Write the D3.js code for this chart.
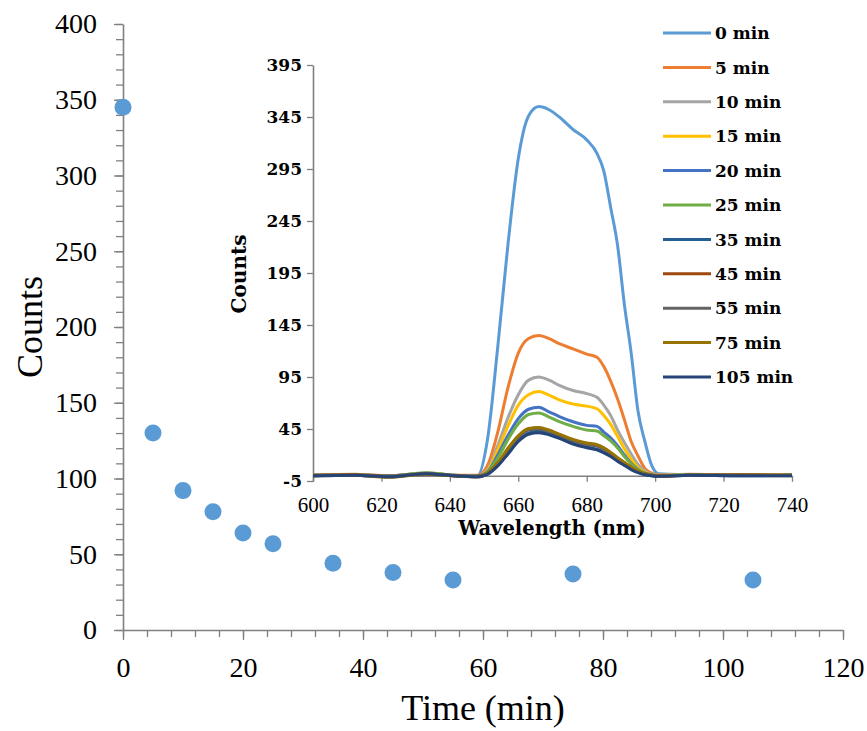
<!DOCTYPE html>
<html>
<head>
<meta charset="utf-8">
<script src="https://cdn.jsdelivr.net/npm/d3@7"></script>
<style>
  body { margin: 0; background: #fff; }
</style>
</head>
<body>
<div id="chart"></div>
<script>
// main scatter: peak counts vs time
const timeMin = [0, 5, 10, 15, 20, 25, 35, 45, 55, 75, 105]
const peakCounts = [345, 130, 92, 78, 64, 57, 44, 38, 33, 37, 33]
const mainXTicks = [0, 20, 40, 60, 80, 100, 120]
const mainYTicks = [0, 50, 100, 150, 200, 250, 300, 350, 400]

// inset: emission spectra
const insetXTicks = [600, 620, 640, 660, 680, 700, 720, 740]
const insetYTicks = [-5, 45, 95, 145, 195, 245, 295, 345, 395]
const wavelengths = [600, 612, 622, 633, 641, 648, 651, 654, 657, 660, 663, 666, 669, 672, 676, 680, 683, 685, 687, 689, 691, 693, 695, 697, 699, 701, 710, 725, 740]
const spec0 = [0.5, 1, -0.5, 2.5, 0.5, 0, 35, 124, 223, 305, 346, 355, 352, 345, 333, 323, 310, 293, 258, 222, 165, 118, 62, 33, 10, 2, 1, 0.5, 0.5]
const spec5 = [1, 1.5, 0, 2.5, 0.5, 0.5, 10, 42, 85, 118, 132, 135, 132, 127, 122, 117, 114, 105, 91, 74, 54, 33, 19, 7, 2.5, 0.7, 1.5, 1, 1]
const spec10 = [0.5, 1, -0.5, 2.5, 0.5, 0, 6, 29, 56, 78, 92, 95, 92, 87, 82, 79, 75.5, 68, 58, 44, 32, 21, 11, 5, 1.5, 0.5, 1, 0.5, 0.5]
const spec15 = [0, 1, -0.5, 2.5, 0.5, 0, 5, 25, 48, 68, 78, 81, 77.5, 73, 69, 67, 64.5, 58, 49.5, 38, 26, 16, 8, 3.5, 1, 0.5, 1, 0.5, 0.5]
const spec20 = [0.5, 1, 0, 2.5, 0.5, 0, 4, 20, 39, 55, 64, 66, 61.5, 57, 52, 48.5, 47.5, 42, 36.5, 29, 20, 12, 6, 2.5, 1, 0, 1, 0.5, 0.5]
const spec25 = [0, 1, -0.5, 3, 0.5, -0.5, 3.5, 17, 35, 50, 59, 60.5, 56.5, 52, 47.5, 44, 43, 38.5, 33.5, 27, 18.5, 11.5, 5.5, 2.5, 1, 0, 1, 0.5, 0.5]
const spec35 = [0, 0.5, -1, 2, 0, -1, 1.5, 10, 22, 34, 41, 43, 40.5, 37, 31.5, 27.5, 25.5, 22.5, 19, 14.5, 10.5, 6.5, 3.5, 1.5, 0, -0.5, 0.5, 0, 0.5]
const spec45 = [0, 1, -0.5, 2, 0, -0.5, 2.5, 12, 26, 38, 45, 46, 43.5, 39.5, 34.5, 31, 29.5, 26.5, 22, 17, 12.5, 8, 4, 2, 0.5, 0, 0.5, 1, 0.5]
const spec55 = [0, 0.5, -1, 2, 0, -1, 2, 11.5, 25, 37, 44, 45, 42.5, 38.5, 33.5, 30, 28.5, 25.5, 21, 16, 12, 7.5, 3.5, 1.5, 0.5, -0.5, 0.5, 0.5, 0]
const spec75 = [0.5, 0.5, -1.5, 1.5, 0, -1, 2.5, 12.5, 26.5, 38.5, 45.5, 46.5, 44, 40, 35, 31.5, 30, 27, 22.5, 17.5, 13, 8.5, 4.5, 2, 0.5, -0.5, 0.5, 0.5, 0.5]
const spec105 = [0, 0.5, -1, 2, 0, -1, 1.5, 9.5, 21, 33, 40, 41.5, 39.5, 36, 30.5, 27, 25, 22, 18.5, 14, 10, 6, 3, 1, 0, -0.5, 0.5, 0, 0]
const seriesNames = ["0 min", "5 min", "10 min", "15 min", "20 min", "25 min", "35 min", "45 min", "55 min", "75 min", "105 min"]
const seriesValues = [spec0, spec5, spec10, spec15, spec20, spec25, spec35, spec45, spec55, spec75, spec105]
const seriesColors = ["#5b9bd5", "#ed7d31", "#a5a5a5", "#ffc000", "#4472c4", "#70ad47", "#255e91", "#9e480e", "#636363", "#997300", "#264478"]

const serif = "'Liberation Serif', 'Times New Roman', serif"
const boldSerif = "'DejaVu Serif', serif"
const axisGrey = "#808080"

drawChart("#chart")

function drawChart(id){
    const svg = d3.select(id).append("svg").attr("width", 867).attr("height", 731)
    drawMain(svg)
    drawInset(svg)
    drawLegend(svg)
}

function drawMain(svg){
    const x = d3.scaleLinear().domain([0, 120]).range([123, 843])
    const y = d3.scaleLinear().domain([0, 400]).range([630, 24])

    // minor ticks
    svg.append("g").attr("transform", `translate(123,0)`)
        .call(d3.axisLeft(y).tickValues(d3.range(0, 401, 10)).tickSize(7).tickFormat("").tickSizeOuter(0))
        .call(g => g.select(".domain").remove())
        .call(g => g.selectAll("line").attr("stroke", axisGrey).attr("stroke-width", 1.3))
    svg.append("g").attr("transform", `translate(0,630)`)
        .call(d3.axisBottom(x).tickValues(d3.range(0, 121, 4)).tickSize(7).tickFormat("").tickSizeOuter(0))
        .call(g => g.select(".domain").remove())
        .call(g => g.selectAll("line").attr("stroke", axisGrey).attr("stroke-width", 1.3))

    const yAxis = svg.append("g").attr("transform", `translate(123,0)`)
        .call(d3.axisLeft(y).tickValues(mainYTicks).tickSize(9).tickPadding(17).tickSizeOuter(0))
    const xAxis = svg.append("g").attr("transform", `translate(0,630)`)
        .call(d3.axisBottom(x).tickValues(mainXTicks).tickSize(10).tickPadding(17).tickSizeOuter(0))
    ;[yAxis, xAxis].forEach(g => {
        g.select(".domain").attr("stroke", axisGrey).attr("stroke-width", 1.6)
        g.selectAll("line").attr("stroke", axisGrey).attr("stroke-width", 1.3)
        g.selectAll("text").attr("font-family", serif).attr("font-size", "28px").attr("fill", "#000")
    })

    svg.append("text").attr("transform", "translate(42,327) rotate(-90)")
        .attr("text-anchor", "middle").attr("font-family", serif).attr("font-size", "36px").text("Counts")
    svg.append("text").attr("x", 483).attr("y", 720)
        .attr("text-anchor", "middle").attr("font-family", serif).attr("font-size", "36px").text("Time (min)")

    svg.selectAll(".pt").data(timeMin).enter().append("circle").attr("class", "pt")
        .attr("cx", d => x(d)).attr("cy", (d, j) => y(peakCounts[j])).attr("r", 8.5)
        .attr("fill", "#5b9bd5")
}

function drawInset(svg){
    const x = d3.scaleLinear().domain([600, 740]).range([313, 792])
    const y = d3.scaleLinear().domain([-5, 395]).range([481, 65])

    const yAxis = svg.append("g").attr("transform", `translate(313,0)`)
        .call(d3.axisLeft(y).tickValues(insetYTicks).tickFormat(d => String(d)).tickSize(6).tickPadding(5).tickSizeOuter(0))
    yAxis.select(".domain").attr("stroke", axisGrey).attr("stroke-width", 1.6)
    yAxis.selectAll("line").attr("stroke", axisGrey).attr("stroke-width", 1.3)
    yAxis.selectAll("text").attr("font-family", boldSerif).attr("font-weight", "bold")
        .attr("font-size", "17px").attr("fill", "#000")

    const xAxis = svg.append("g").attr("transform", `translate(0,${y(0)})`)
        .call(d3.axisBottom(x).tickValues(insetXTicks).tickSize(6).tickPadding(15).tickSizeOuter(0))
    xAxis.select(".domain").attr("stroke", axisGrey).attr("stroke-width", 1.6)
    xAxis.selectAll("line").attr("stroke", axisGrey).attr("stroke-width", 1.3)
    xAxis.selectAll("text").attr("font-family", serif).attr("font-size", "21px").attr("fill", "#000")

    const line = d3.line().x((d, j) => x(wavelengths[j])).y(d => y(d)).curve(d3.curveMonotoneX)
    svg.selectAll(".spec").data(seriesValues).enter().append("path").attr("class", "spec")
        .attr("d", d => line(d)).attr("fill", "none")
        .attr("stroke", (d, j) => seriesColors[j]).attr("stroke-width", 3).attr("stroke-linejoin", "round")

    svg.append("text").attr("transform", "translate(246,274) rotate(-90)")
        .attr("text-anchor", "middle").attr("font-family", boldSerif).attr("font-weight", "bold")
        .attr("font-size", "20px").text("Counts")
    svg.append("text").attr("x", 552).attr("y", 535)
        .attr("text-anchor", "middle").attr("font-family", boldSerif).attr("font-weight", "bold")
        .attr("font-size", "19.5px").text("Wavelength (nm)")
}

function drawLegend(svg){
    const rows = svg.selectAll(".leg").data(seriesNames).enter().append("g").attr("class", "leg")
        .attr("transform", (d, j) => `translate(663,${33 + j * 34.4})`)
    rows.append("line").attr("x1", 0).attr("x2", 48).attr("stroke", (d, j) => seriesColors[j]).attr("stroke-width", 3)
    rows.append("text").attr("x", 52).attr("dy", "0.36em").attr("font-family", boldSerif)
        .attr("font-weight", "bold").attr("font-size", "17px").text(d => d)
}
</script>
</body>
</html>
